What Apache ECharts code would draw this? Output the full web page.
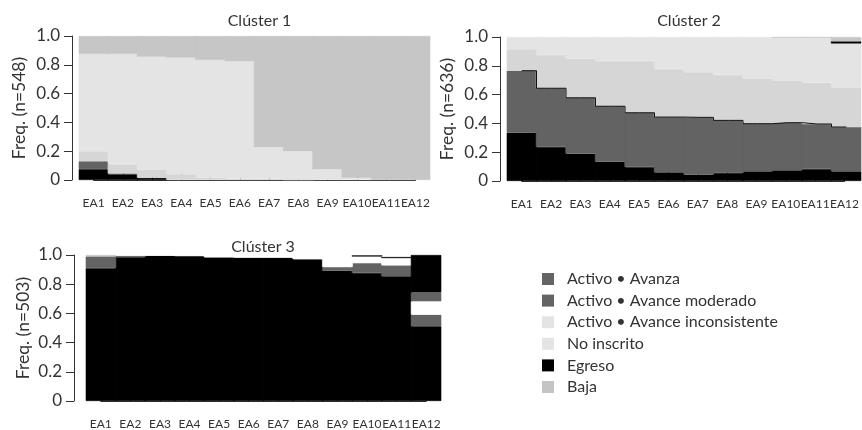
<!DOCTYPE html>
<html>
<head>
<meta charset="utf-8">
<script src="https://cdn.jsdelivr.net/npm/echarts@6/dist/echarts.min.js"></script>
<style>html,body{margin:0;padding:0;background:#fff}#c{width:862px;height:430px}</style>
</head>
<body>
<div id="c"></div>
<script>
const categories = ['EA1','EA2','EA3','EA4','EA5','EA6','EA7','EA8','EA9','EA10','EA11','EA12'];
const yTickLabels = ['0','0.2','0.4','0.6','0.8','1.0'];
const states = ['Activo • Avanza','Activo • Avance moderado','Activo • Avance inconsistente','No inscrito','Egreso','Baja'];
const clusterTitles = ['Clúster 1','Clúster 2','Clúster 3'];
const clusterN = [548, 636, 503];

// Cluster 1
const c1Avanza        = [0.075,0.040,0.015,0,0,0,0,0,0,0,0,0];
const c1Moderado      = [0.055,0.005,0,0,0,0,0,0,0,0,0,0];
const c1Inconsistente = [0.070,0.065,0.058,0.040,0.016,0.010,0.010,0.003,0,0,0,0];
const c1NoInscrito    = [0.675,0.765,0.783,0.810,0.817,0.814,0.217,0.197,0.074,0.016,0,0];
const c1Egreso        = [0,0,0,0,0,0,0,0,0,0,0,0];
const c1Baja          = [0.125,0.125,0.144,0.150,0.167,0.176,0.773,0.800,0.926,0.984,1,1];

// Cluster 2
const c2Avanza        = [0.335,0.236,0.190,0.134,0.097,0.060,0.044,0.056,0.067,0.074,0.083,0.067];
const c2Moderado      = [0.431,0.408,0.388,0.385,0.377,0.384,0.398,0.365,0.331,0.331,0.313,0.308];
const c2Inconsistente = [0.149,0.231,0.271,0.314,0.359,0.334,0.313,0.315,0.315,0.294,0.287,0.275];
const c2NoInscrito    = [0.085,0.125,0.151,0.167,0.167,0.222,0.245,0.264,0.287,0.296,0.312,0.305];
const c2Egreso        = [0,0,0,0,0,0,0,0,0,0,0,0.015];
const c2Baja          = [0,0,0,0,0,0,0,0,0,0.005,0.005,0.030];

// Cluster 3
const c3Avanza        = [0.910,0.985,0.995,0.993,0.984,0.982,0.982,0.971,0.892,0.877,0.854,0.512];
const c3Moderado      = [0.080,0.010,0,0,0,0,0,0,0.026,0.068,0.075,0.079];
const c3Inconsistente = [0,0.005,0.005,0.007,0.016,0.018,0.018,0.029,0.082,0.045,0.050,0.092];
const c3NoInscrito    = [0,0,0,0,0,0,0,0,0,0,0,0.061];
const c3Egreso        = [0,0,0,0,0,0,0,0,0,0.007,0.007,0.256];
const c3Baja          = [0.010,0,0,0,0,0,0,0,0,0,0,0];

const clusters = [
  [c1Avanza,c1Moderado,c1Inconsistente,c1NoInscrito,c1Egreso,c1Baja],
  [c2Avanza,c2Moderado,c2Inconsistente,c2NoInscrito,c2Egreso,c2Baja],
  [c3Avanza,c3Moderado,c3Inconsistente,c3NoInscrito,c3Egreso,c3Baja]
];

// styles
const palettes = [
  ['#000000','#636363','#d6d6d6','#e4e4e4','#000000','#c6c6c6'],
  ['#000000','#636363','#d6d6d6','#e4e4e4','#000000','#c6c6c6'],
  ['#000000','#636363','#ffffff','#636363','#000000','#c6c6c6']
];
const legendColors = ['#646464','#646464','#e4e4e4','#e4e4e4','#000000','#c4c4c4'];
const layout = [
  {left:79, top:36, width:351, height:144, axisX:72, nameGap:44, titleX:254.5, titleY:8},
  {left:507, top:37, width:354, height:144, axisX:500, nameGap:44, titleX:684, titleY:8},
  {left:86, top:255, width:355, height:146, axisX:74, nameGap:42, titleX:258, titleY:234}
];
const FONT = 'Lato, "Open Sans", sans-serif';
const TXT = '#333';

const grid = [], xAxis = [], yAxis = [], series = [], title = [];
layout.forEach((L, i) => {
  grid.push({left:L.left, top:L.top, width:L.width, height:L.height});
  grid.push({left:L.left + L.width/24, top:L.top, width:L.width*11/12, height:L.height});
  title.push({text:clusterTitles[i], left:L.titleX, top:L.titleY, textAlign:'center',
    textStyle:{fontFamily:FONT, fontSize:16, fontWeight:'normal', color:TXT}});
  xAxis.push({type:'category', gridIndex:2*i, data:categories, show:false,
    splitLine:{show:false}, axisPointer:{show:false}});
  xAxis.push({type:'category', gridIndex:2*i+1, data:categories, boundaryGap:false, offset:14,
    axisLine:{show:true, lineStyle:{color:'#333', width:1}},
    axisTick:{show:true, inside:true, length:9, lineStyle:{color:'#333'}},
    axisLabel:{interval:0, margin:3, fontFamily:FONT, fontSize:12, color:TXT},
    splitLine:{show:false}});
  yAxis.push({type:'value', gridIndex:2*i, min:0, max:1, interval:0.2, offset:L.left - L.axisX,
    name:'Freq. (n=' + clusterN[i] + ')', nameLocation:'middle', nameGap:L.nameGap,
    nameTextStyle:{fontFamily:FONT, fontSize:17.5, color:TXT},
    axisLine:{show:true, lineStyle:{color:'#333', width:1}},
    axisTick:{show:true, length:8, lineStyle:{color:'#333'}},
    axisLabel:{margin:12, fontFamily:FONT, fontSize:17, color:TXT,
      formatter:(v)=>yTickLabels[Math.round(v/0.2)]},
    splitLine:{show:false}});
  yAxis.push({type:'value', gridIndex:2*i+1, min:0, max:1, show:false});
  clusters[i].forEach((arr, s) => {
    series.push({type:'bar', name:states[s], xAxisIndex:2*i, yAxisIndex:2*i, stack:'c'+i,
      data:arr.map(v => v > 0 ? v : null), barWidth:L.width/12 + 1.2,
      itemStyle:{color:palettes[i][s], borderWidth:0.6, borderColor:palettes[i][s]},
      emphasis:{disabled:true}, silent:true});
  });
});
// outline along the top of "Avance moderado" in Clúster 2
series.push({type:'line', xAxisIndex:2, yAxisIndex:2, step:'middle', symbol:'none', silent:true, z:5,
  data:c2Avanza.map((v,k)=>v + c2Moderado[k]),
  lineStyle:{color:'#111', width:1}});

const chart = echarts.init(document.getElementById('c'), null, {renderer:'canvas'});
chart.setOption({
  animation:false,
  backgroundColor:'#fff',
  title, grid, xAxis, yAxis, series,
  legend:{orient:'vertical', left:542, top:271, padding:0, icon:'rect', itemWidth:12, itemHeight:12, itemGap:5.6,
    selectedMode:false,
    textStyle:{fontFamily:FONT, fontSize:16, color:TXT, padding:[0,0,0,8]},
    data:states.map((n,k)=>({name:n, itemStyle:{color:legendColors[k], borderWidth:0}}))}
});
</script>
</body>
</html>
